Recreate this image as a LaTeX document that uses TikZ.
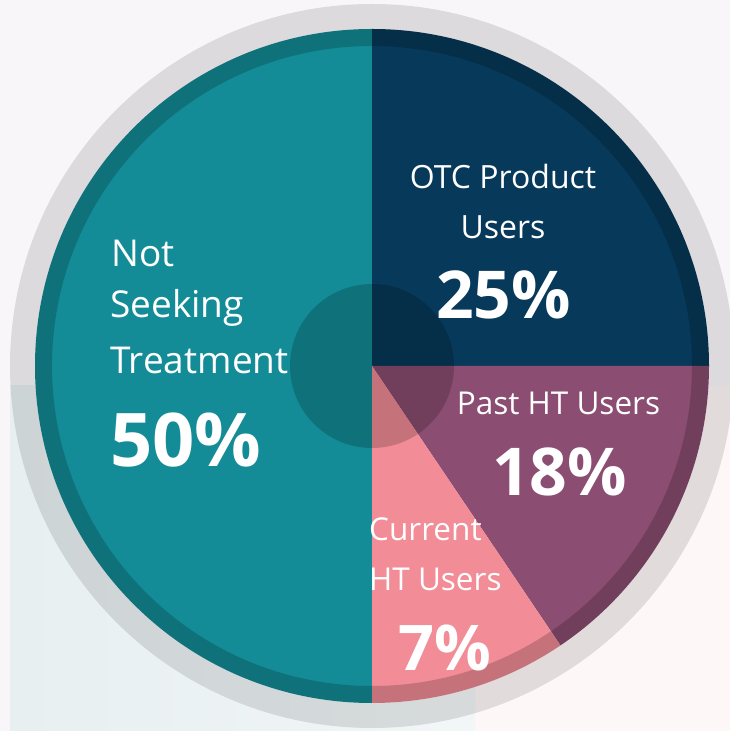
\documentclass[tikz,border=0pt]{standalone}
\usepackage{fontspec}
\setmainfont{Open Sans}
\definecolor{bgA}{HTML}{F9F6F9}
\definecolor{bgB}{HTML}{E7EFF1}
\definecolor{bgC}{HTML}{FDF7F7}
\definecolor{tealC}{HTML}{138C97}
\definecolor{navyC}{HTML}{07395A}
\definecolor{purpC}{HTML}{8B4D71}
\definecolor{pinkC}{HTML}{F28C97}
\tikzset{
  lbl/.style={text=white, inner sep=0pt, font=\fontsize{#1}{#1}\selectfont},
  pct/.style={text=white, inner sep=0pt, font=\fontsize{#1}{#1}\selectfont\bfseries},
}
\begin{document}
\begin{tikzpicture}[x=1pt,y=1pt]
% background
\fill[bgA] (0,0) rectangle (730,731);
\fill[bgC] (475,0) rectangle (730,345);
\shade[left color=bgB, right color=bgB!55!white] (10,0) rectangle (475,345);
\useasboundingbox (0,0) rectangle (730,731);
\coordinate (C) at (372,365);
% gray outer ring
\fill[black, opacity=0.11, even odd rule] (C) circle[radius=362pt] (C) circle[radius=337pt];
% slices
\fill[tealC] (C) -- ++(90:337pt) arc[start angle=90, end angle=270, radius=337pt] -- cycle;
\fill[navyC] (C) -- ++(0:337pt) arc[start angle=0, end angle=90, radius=337pt] -- cycle;
\fill[purpC] (C) -- ++(-56:337pt) arc[start angle=-56, end angle=0, radius=337pt] -- cycle;
\fill[pinkC] (C) -- ++(-90:337pt) arc[start angle=-90, end angle=-56, radius=337pt] -- cycle;
% darker rim
\fill[black, opacity=0.18, even odd rule] (C) circle[radius=337pt] (C) circle[radius=320pt];
% center shade
\fill[black, opacity=0.18] (C) circle[radius=82pt];
% labels
\node[lbl=37, anchor=base west] (n1) at (111,464) {Not};
\node[lbl=37, anchor=base west] (n2) at (110,413) {Seeking};
\node[lbl=37, anchor=base west] (n3) at (110,357) {Treatment};
\node[pct=74, anchor=base west] (n4) at (110,264) {50\%};
\node[lbl=32, anchor=base] (o1) at (503,542.4) {OTC Product};
\node[lbl=32, anchor=base] (o2) at (503,492.5) {Users};
\node[pct=66, anchor=base] (o3) at (503.7,412) {25\%};
\node[lbl=31.5, anchor=base] (p1) at (558.5,316.5) {Past HT Users};
\node[pct=66, anchor=base] (p2) at (559.6,235) {18\%};
\node[lbl=31.5, anchor=base west] (c1) at (369,190) {Current};
\node[lbl=31.5, anchor=base west] (c2) at (369,140.4) {HT Users};
\node[pct=63, anchor=base] (c3) at (445,60.3) {7\%};
\end{tikzpicture}
\end{document}
